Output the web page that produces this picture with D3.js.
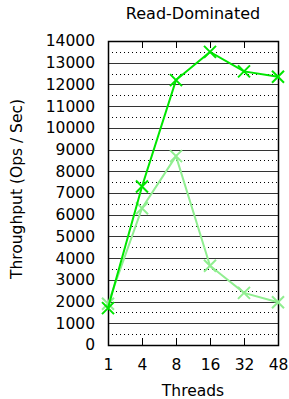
<!DOCTYPE html>
<html><head><meta charset="utf-8">
<script src="https://cdn.jsdelivr.net/npm/d3@7"></script>
<style>body{margin:0;background:#fff}svg{display:block}text{font-family:"DejaVu Sans",sans-serif;fill:#000}</style>
</head><body>
<script>
const threads = ["1","4","8","16","32","48"];
const seriesA = [1700, 7300, 12200, 13500, 12600, 12350];
const seriesB = [1900, 6300, 8700, 3650, 2400, 1970];
const yTicks = [0,1000,2000,3000,4000,5000,6000,7000,8000,9000,10000,11000,12000,13000,14000];
const yMinor = [500,1500,2500,3500,4500,5500,6500,7500,8500,9500,10500,11500,12500,13500];
const title = "Read-Dominated", xTitle = "Threads", yTitle = "Throughput (Ops / Sec)";

const W=289,H=399, L=108,R=278,T=41,B=345;
const svg=d3.select("body").append("svg").attr("width",W).attr("height",H);
const x=d3.scalePoint().domain(threads).range([L,R]);
const y=d3.scaleLinear().domain([0,14000]).range([B,T]);

// minor dotted grid
svg.append("g").selectAll("line").data(yMinor).join("line")
 .attr("x1",L).attr("x2",R).attr("y1",d=>Math.round(y(d))+0.5).attr("y2",d=>Math.round(y(d))+0.5)
 .attr("stroke","#000").attr("stroke-width",1).attr("stroke-dasharray","1,3");
// major grid
svg.append("g").selectAll("line").data(yTicks).join("line")
 .attr("x1",L).attr("x2",R).attr("y1",d=>Math.round(y(d))+0.5).attr("y2",d=>Math.round(y(d))+0.5)
 .attr("stroke","#333").attr("stroke-width",1);

// axes
const gy=svg.append("g").attr("transform",`translate(${L},0)`)
 .call(d3.axisLeft(y).tickValues(yTicks).tickFormat(d3.format("d")).tickSize(0).tickPadding(13));
gy.select(".domain").remove();
gy.selectAll("text").style("font-size","15.5px");
const gx=svg.append("g").attr("transform",`translate(0,${B})`)
 .call(d3.axisBottom(x).tickSize(0).tickPadding(0));
gx.select(".domain").remove();
gx.selectAll("text").attr("dy",null).attr("y",25).style("font-size","15.5px");
// inward ticks on x
svg.append("g").selectAll("line").data(threads).join("line")
 .attr("x1",d=>x(d)+0.5).attr("x2",d=>x(d)+0.5).attr("y1",B).attr("y2",B-7).attr("stroke","#000");
svg.append("g").selectAll("line").data(threads).join("line")
 .attr("x1",d=>x(d)+0.5).attr("x2",d=>x(d)+0.5).attr("y1",T).attr("y2",T+7).attr("stroke","#000");

// border
svg.append("rect").attr("x",L+0.5).attr("y",T+0.5).attr("width",R-L).attr("height",B-T)
 .attr("fill","none").attr("stroke","#000").attr("stroke-width",1.5);

function drawSeries(vals,color){
  const pts=threads.map((t,i)=>[x(t),y(vals[i])]);
  svg.append("path").attr("d",d3.line()(pts)).attr("fill","none").attr("stroke",color).attr("stroke-width",2);
  const s=6;
  svg.append("g").selectAll("path").data(pts).join("path")
   .attr("d",p=>`M${p[0]-s},${p[1]-s}L${p[0]+s},${p[1]+s}M${p[0]-s},${p[1]+s}L${p[0]+s},${p[1]-s}`)
   .attr("stroke",color).attr("stroke-width",2).attr("fill","none");
}
drawSeries(seriesB,"#90ee90");
drawSeries(seriesA,"#00e600");

svg.append("text").attr("x",(L+R)/2).attr("y",19).attr("text-anchor","middle").style("font-size","16px").text(title);
svg.append("text").attr("x",(L+R)/2).attr("y",396).attr("text-anchor","middle").style("font-size","15.5px").text(xTitle);
svg.append("text").attr("transform",`translate(22,189) rotate(-90)`).attr("text-anchor","middle").style("font-size","15.5px").text(yTitle);
</script>
</body></html>
